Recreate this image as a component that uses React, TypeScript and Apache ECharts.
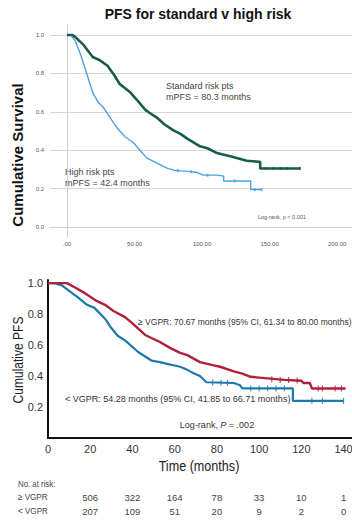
import React, { useEffect, useRef } from "react";
import * as echarts from "echarts";

// ---- Top chart: PFS for standard v high risk ----
const stdT = [0, 4, 6, 12, 19, 24, 30, 35, 39, 47, 52, 58, 61, 66.5, 72, 78.5, 84, 89, 98.5, 104, 111, 123, 133, 142, 143, 143, 172.5];
const stdS = [1, 1, 0.99, 0.95, 0.885, 0.87, 0.84, 0.79, 0.745, 0.7, 0.66, 0.61, 0.595, 0.57, 0.535, 0.505, 0.485, 0.46, 0.42, 0.41, 0.385, 0.365, 0.345, 0.34, 0.34, 0.305, 0.305];
const hrT = [0, 3, 6, 10, 15, 19, 23, 26.7, 30, 35.6, 39, 43, 49, 54, 59, 66.5, 74, 80, 89, 96, 101, 111, 116, 116, 136, 136, 144];
const hrS = [1, 1, 0.97, 0.9, 0.79, 0.7, 0.65, 0.625, 0.59, 0.53, 0.5, 0.47, 0.44, 0.4, 0.36, 0.333, 0.307, 0.295, 0.29, 0.285, 0.27, 0.27, 0.265, 0.24, 0.24, 0.195, 0.195];
const stdCensorT = [147, 153, 158, 163, 172.5];
const stdCensorS = [0.305, 0.305, 0.305, 0.305, 0.305];
const hrCensorT = [82, 92, 104, 124, 139, 144];
const hrCensorS = [0.293, 0.288, 0.27, 0.24, 0.195, 0.195];
const topXTicks = [0, 50, 100, 150, 200];
const topYTicks = [0, 0.2, 0.4, 0.6, 0.8, 1.0];

// ---- Bottom chart: >= VGPR vs < VGPR ----
const redT = [0, 9, 13, 17.5, 23, 27, 31, 36.5, 40, 46, 53, 58, 62.6, 66, 72, 78, 81.5, 88, 92, 96, 104, 112, 120, 121, 124, 125, 141];
const redS = [1, 1, 0.97, 0.935, 0.885, 0.86, 0.82, 0.78, 0.74, 0.665, 0.62, 0.58, 0.55, 0.535, 0.49, 0.47, 0.46, 0.43, 0.415, 0.395, 0.385, 0.375, 0.37, 0.355, 0.355, 0.32, 0.32];
const blueT = [0, 3, 6.6, 10, 14, 18.5, 22, 27, 30, 33, 36.5, 42.7, 49, 53, 56, 62.6, 66, 68.7, 72, 75, 88, 91, 92, 116, 116, 140];
const blueS = [1, 1, 0.985, 0.95, 0.91, 0.86, 0.84, 0.77, 0.71, 0.66, 0.63, 0.555, 0.5, 0.49, 0.48, 0.46, 0.44, 0.42, 0.4, 0.36, 0.355, 0.34, 0.32, 0.32, 0.24, 0.24];
const redCensorT = [106, 110, 114, 118, 128, 130, 136, 139];
const redCensorS = [0.38, 0.375, 0.375, 0.372, 0.32, 0.32, 0.32, 0.32];
const blueCensorT = [78, 82, 85, 96, 100, 104, 108, 112, 125, 130, 140];
const blueCensorS = [0.358, 0.357, 0.356, 0.32, 0.32, 0.32, 0.32, 0.32, 0.24, 0.24, 0.24];
const botXTicks = [0, 20, 40, 60, 80, 100, 120, 140];
const botYTicks = [0.2, 0.4, 0.6, 0.8, 1.0];
const atRiskTicks = [20, 40, 60, 80, 100, 120, 140];
const atRiskHigh = [506, 322, 164, 78, 33, 10, 1];
const atRiskLow = [207, 109, 51, 20, 9, 2, 0];

const zip = (t: number[], s: number[]) => t.map((v, i) => [v, s[i]]);

const TOPFONT = "'Liberation Sans', Arial, sans-serif";
const BOTFONT = "'Liberation Sans', Arial, sans-serif";

export default function App() {
  const ref = useRef<HTMLDivElement>(null);
  useEffect(() => {
    document.body.style.margin = "0";
    const chart = echarts.init(ref.current!, null, { renderer: "svg" });
    const gridLine = { show: true, lineStyle: { color: "#d6d6d6", width: 1 } };
    const atRiskAxis = (arr: number[], offset: number) => ({
      type: "value",
      gridIndex: 1,
      min: 0,
      max: 144,
      position: "bottom",
      offset,
      axisLine: { show: false },
      axisTick: { show: false },
      splitLine: { show: false },
      axisLabel: {
        customValues: atRiskTicks,
        margin: 8,
        fontSize: 9.5,
        color: "#444",
        fontFamily: BOTFONT,
        formatter: (v: number) => String(arr[atRiskTicks.indexOf(Math.round(v))] ?? ""),
      },
    });
    const txt = (x: number, y: number, text: string, font: string, fill: string, extra: any = {}) => ({
      type: "text", x, y, ...extra,
      style: { text, align: extra.align || "left", verticalAlign: "middle", font, fill },
    });
    chart.setOption({
      animation: false,
      grid: [
        { left: 50, top: 25, width: 302, height: 212, outerBoundsMode: "none" },
        { left: 48, top: 280, width: 304, height: 158, outerBoundsMode: "none" },
      ],
      xAxis: [
        {
          type: "value",
          gridIndex: 0,
          min: -12.6,
          max: 211,
          axisLine: { show: true, lineStyle: { color: "#cfcfcf", width: 1 } },
          axisTick: { show: false },
          splitLine: { show: false },
          axisLabel: {
            customValues: topXTicks,
            margin: 4,
            fontSize: 6,
            color: "#555",
            fontFamily: TOPFONT,
            formatter: (v: number) => (v === 0 ? ".00" : v.toFixed(2)),
          },
        },
        {
          type: "value",
          gridIndex: 1,
          min: 0,
          max: 144,
          axisLine: { show: true, onZero: false, lineStyle: { color: "#111", width: 2 } },
          axisTick: { show: false },
          splitLine: { show: false },
          axisLabel: {
            customValues: botXTicks,
            margin: 5,
            fontSize: 11,
            color: "#333",
            fontFamily: BOTFONT,
          },
        },
        atRiskAxis(atRiskHigh, 46),
        atRiskAxis(atRiskLow, 60),
      ],
      yAxis: [
        {
          type: "value",
          gridIndex: 0,
          min: -0.052,
          max: 1.052,
          axisLine: { show: true, lineStyle: { color: "#cfcfcf", width: 1 } },
          axisTick: { show: false, customValues: topYTicks },
          splitLine: gridLine,
          axisLabel: {
            customValues: topYTicks,
            margin: 6,
            fontSize: 6,
            color: "#555",
            fontFamily: TOPFONT,
            formatter: (v: number) => v.toFixed(1),
          },
        },
        {
          type: "value",
          gridIndex: 1,
          min: 0,
          max: 1.02,
          axisLine: { show: true, onZero: false, lineStyle: { color: "#111", width: 2 } },
          axisTick: { show: false },
          splitLine: { show: false },
          axisLabel: {
            customValues: botYTicks,
            margin: 5,
            fontSize: 11,
            color: "#333",
            fontFamily: BOTFONT,
            formatter: (v: number) => v.toFixed(1),
          },
        },
      ],
      series: [
        {
          type: "line", xAxisIndex: 0, yAxisIndex: 0, data: zip(stdT, stdS), showSymbol: false,
          lineStyle: { color: "#175c4c", width: 2.6 }, z: 3,
        },
        {
          type: "line", xAxisIndex: 0, yAxisIndex: 0, data: zip(hrT, hrS), showSymbol: false,
          lineStyle: { color: "#4aa3df", width: 1.4 }, z: 2,
        },
        {
          type: "scatter", xAxisIndex: 0, yAxisIndex: 0, data: zip(stdCensorT, stdCensorS),
          symbol: "rect", symbolSize: [2, 3], itemStyle: { color: "#175c4c" }, z: 4,
        },
        {
          type: "scatter", xAxisIndex: 0, yAxisIndex: 0, data: zip(hrCensorT, hrCensorS),
          symbol: "rect", symbolSize: [2, 3], itemStyle: { color: "#4aa3df" }, z: 4,
        },
        {
          type: "line", xAxisIndex: 1, yAxisIndex: 1, data: zip(redT, redS), showSymbol: false,
          lineStyle: { color: "#b31f3b", width: 2.4 }, z: 3,
        },
        {
          type: "line", xAxisIndex: 1, yAxisIndex: 1, data: zip(blueT, blueS), showSymbol: false,
          lineStyle: { color: "#1f78ae", width: 2.2 }, z: 2,
        },
        {
          type: "scatter", xAxisIndex: 1, yAxisIndex: 1, data: zip(redCensorT, redCensorS),
          symbol: "rect", symbolSize: [1.2, 6], itemStyle: { color: "#b31f3b" }, z: 4,
        },
        {
          type: "scatter", xAxisIndex: 1, yAxisIndex: 1, data: zip(blueCensorT, blueCensorS),
          symbol: "rect", symbolSize: [1.2, 6], itemStyle: { color: "#1f78ae" }, z: 4,
        },
      ],
      graphic: [
        txt(198, 14, "PFS for standard v high risk", `bold 14px ${TOPFONT}`, "#111", { align: "center" }),
        txt(17, 155, "Cumulative Survival", `bold 15px ${TOPFONT}`, "#111", { align: "center", rotation: Math.PI / 2 }),
        txt(166, 86, "Standard risk pts", `9px ${TOPFONT}`, "#444"),
        txt(166, 97, "mPFS = 80.3 months", `9px ${TOPFONT}`, "#444"),
        txt(65, 172, "High risk pts", `9px ${TOPFONT}`, "#444"),
        txt(65, 183, "mPFS = 42.4 months", `9px ${TOPFONT}`, "#444"),
        txt(258, 217, "Log-rank, p < 0.001", `5.5px ${TOPFONT}`, "#555"),
        txt(18, 360, "Cumulative PFS", `14px ${BOTFONT}`, "#222", { align: "center", rotation: Math.PI / 2, scaleX: 0.86 }),
        txt(138, 322, "≥ VGPR: 70.67 months (95% CI, 61.34 to 80.00 months)", `9px ${BOTFONT}`, "#333", { scaleX: 0.95 }),
        txt(65, 399, "< VGPR: 54.28 months (95% CI, 41.85 to 66.71 months)", `9px ${BOTFONT}`, "#333"),
        {
          type: "text", x: 217, y: 425,
          style: {
            text: "{a|Log-rank, }{b|P}{a| = .002}", align: "center", verticalAlign: "middle",
            rich: {
              a: { fontSize: 9, fontFamily: BOTFONT, fill: "#333" },
              b: { fontSize: 9, fontFamily: BOTFONT, fontStyle: "italic", fill: "#333" },
            },
          },
        },
        txt(199, 466, "Time (months)", `15px ${BOTFONT}`, "#222", { align: "center", scaleX: 0.84 }),
        txt(18, 484, "No. at risk:", `9px ${BOTFONT}`, "#444", { scaleX: 0.87 }),
        txt(18, 497, "≥ VGPR", `9px ${BOTFONT}`, "#444", { scaleX: 0.9 }),
        txt(18, 511, "< VGPR", `9px ${BOTFONT}`, "#444", { scaleX: 0.9 }),
      ],
    });
    return () => chart.dispose();
  }, []);
  return <div ref={ref} style={{ width: 352, height: 522 }} />;
}
